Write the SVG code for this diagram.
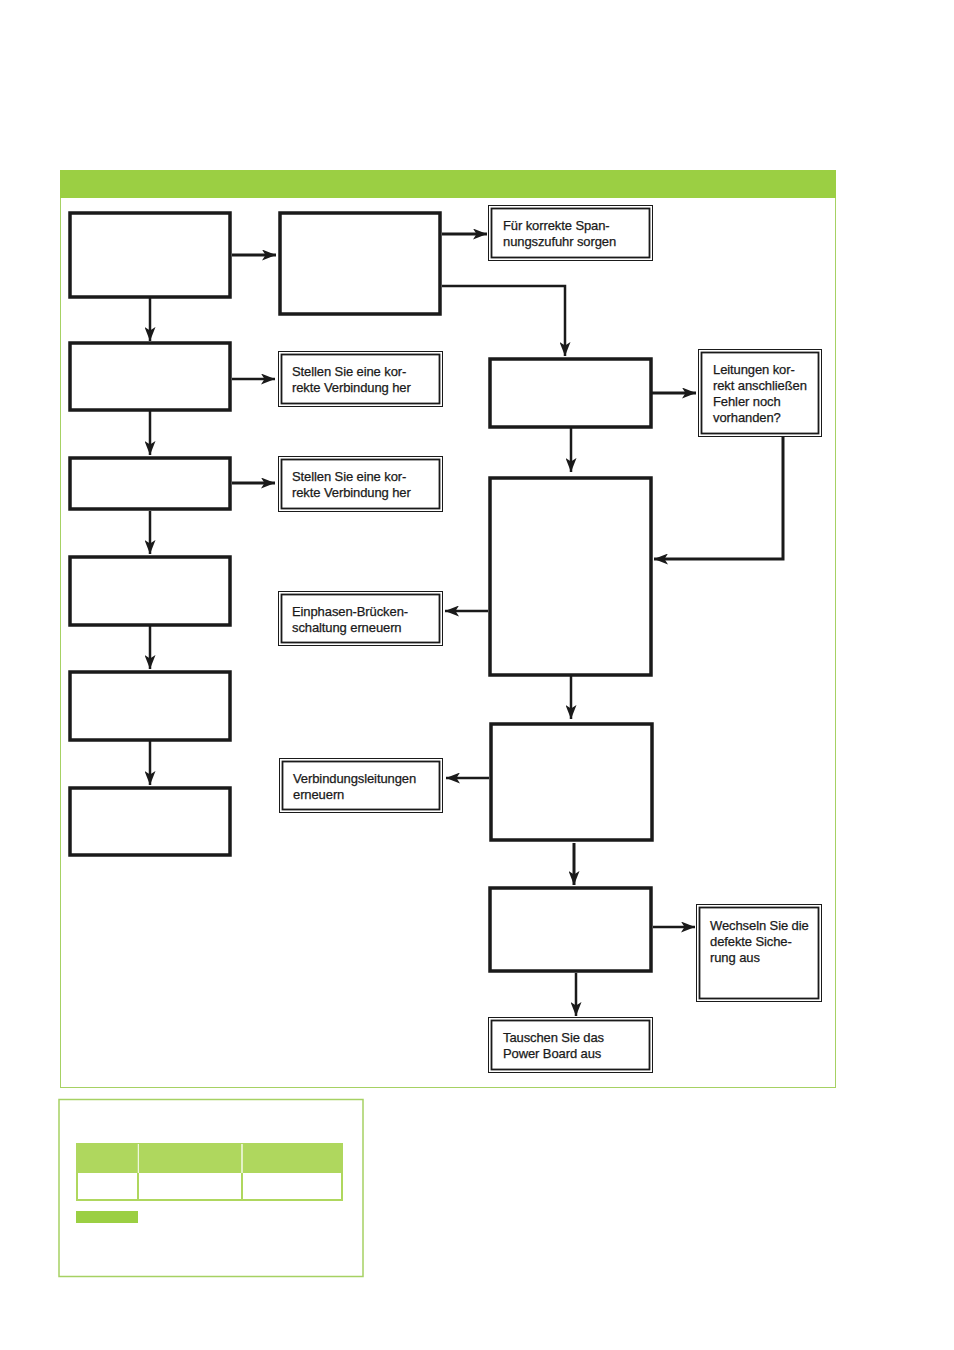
<svg xmlns="http://www.w3.org/2000/svg" width="954" height="1350" viewBox="0 0 954 1350">
<style>
.bx{fill:#fff;stroke:#1a1a1a;stroke-width:3.5}
.out{fill:#fff;stroke:#1a1a1a;stroke-width:1}
.in{fill:none;stroke:#1a1a1a;stroke-width:1.8}
.ln{fill:none;stroke:#1a1a1a;stroke-width:2.5}
.lt{fill:none;stroke:#1a1a1a;stroke-width:3}
.tx{font-family:"Liberation Sans",Arial,sans-serif;font-size:13px;fill:#1a1a1a;stroke:#1a1a1a;stroke-width:0.25;letter-spacing:-0.1px}
</style>
<defs>
<marker id="ah" viewBox="0 0 14 11" refX="14" refY="5.5" markerWidth="14" markerHeight="11" markerUnits="userSpaceOnUse" orient="auto">
<path d="M0,0 L14,5.5 L0,11 L3.5,5.5 Z" fill="#1a1a1a"/>
</marker>
</defs>
<rect x="0" y="0" width="954" height="1350" fill="#fff"/>
<g id="frame">
<rect x="60.5" y="170.5" width="775" height="917" fill="#fff" stroke="#a6d163" stroke-width="1"/>
<rect x="60" y="170" width="776" height="28" fill="#9bcf43"/>
</g>
<g id="connectors">
<line class="lt" x1="232" y1="255" x2="276" y2="255" marker-end="url(#ah)"/>
<line class="lt" x1="442" y1="234" x2="487" y2="234" marker-end="url(#ah)"/>
<polyline class="ln" points="442,286 565,286 565,356" marker-end="url(#ah)"/>
<line class="lt" x1="652" y1="393" x2="696" y2="393" marker-end="url(#ah)"/>
<polyline class="lt" points="783,436 783,559 654,559" marker-end="url(#ah)"/>
<line class="ln" x1="571" y1="428" x2="571" y2="472" marker-end="url(#ah)"/>
<line class="ln" x1="488" y1="611" x2="445" y2="611" marker-end="url(#ah)"/>
<line class="ln" x1="571" y1="676" x2="571" y2="719" marker-end="url(#ah)"/>
<line class="ln" x1="489" y1="778" x2="446" y2="778" marker-end="url(#ah)"/>
<line class="lt" x1="574" y1="843" x2="574" y2="885" marker-end="url(#ah)"/>
<line class="ln" x1="653" y1="927" x2="695" y2="927" marker-end="url(#ah)"/>
<line class="ln" x1="576" y1="973" x2="576" y2="1016" marker-end="url(#ah)"/>
<line class="ln" x1="150" y1="298" x2="150" y2="341" marker-end="url(#ah)"/>
<line class="ln" x1="232" y1="379" x2="275" y2="379" marker-end="url(#ah)"/>
<line class="ln" x1="150" y1="411" x2="150" y2="455" marker-end="url(#ah)"/>
<line class="lt" x1="232" y1="483" x2="275" y2="483" marker-end="url(#ah)"/>
<line class="ln" x1="150" y1="511" x2="150" y2="554" marker-end="url(#ah)"/>
<line class="ln" x1="150" y1="626" x2="150" y2="669" marker-end="url(#ah)"/>
<line class="ln" x1="150" y1="741" x2="150" y2="785" marker-end="url(#ah)"/>
</g>
<g id="nodeA"><rect class="bx" x="70" y="213" width="160" height="84"/></g>
<g id="nodeB"><rect class="bx" x="280" y="213" width="160" height="101"/></g>
<g id="nodeL2"><rect class="bx" x="70" y="343" width="160" height="67"/></g>
<g id="nodeL3"><rect class="bx" x="70" y="458" width="160" height="51"/></g>
<g id="nodeL4"><rect class="bx" x="70" y="557" width="160" height="68"/></g>
<g id="nodeL5"><rect class="bx" x="70" y="672" width="160" height="68"/></g>
<g id="nodeL6"><rect class="bx" x="70" y="788" width="160" height="67"/></g>
<g id="nodeC"><rect class="bx" x="490" y="359" width="161" height="68"/></g>
<g id="nodeD"><rect class="bx" x="490" y="478" width="161" height="197"/></g>
<g id="nodeE"><rect class="bx" x="491" y="724" width="161" height="116"/></g>
<g id="nodeF"><rect class="bx" x="490" y="888" width="161" height="83"/></g>
<g id="actSpannung">
<rect class="out" x="488.5" y="205.5" width="164" height="55"/>
<rect class="in" x="491.5" y="208.5" width="158" height="49"/>
<text class="tx" x="503" y="230">Für korrekte Span-</text>
<text class="tx" x="503" y="246">nungszufuhr sorgen</text>
</g>
<g id="actStellen1">
<rect class="out" x="278.5" y="351.5" width="164" height="55"/>
<rect class="in" x="281.5" y="354.5" width="158" height="49"/>
<text class="tx" x="292" y="376">Stellen Sie eine kor-</text>
<text class="tx" x="292" y="392">rekte Verbindung her</text>
</g>
<g id="actStellen2">
<rect class="out" x="278.5" y="456.5" width="164" height="55"/>
<rect class="in" x="281.5" y="459.5" width="158" height="49"/>
<text class="tx" x="292" y="481">Stellen Sie eine kor-</text>
<text class="tx" x="292" y="497">rekte Verbindung her</text>
</g>
<g id="actLeitungen">
<rect class="out" x="698.5" y="349.5" width="123" height="87"/>
<rect class="in" x="701.5" y="352.5" width="117" height="81"/>
<text class="tx" x="713" y="374">Leitungen kor-</text>
<text class="tx" x="713" y="390">rekt anschließen</text>
<text class="tx" x="713" y="406">Fehler noch</text>
<text class="tx" x="713" y="422">vorhanden?</text>
</g>
<g id="actEinphasen">
<rect class="out" x="278.5" y="591.5" width="164" height="54"/>
<rect class="in" x="281.5" y="594.5" width="158" height="48"/>
<text class="tx" x="292" y="616">Einphasen-Brücken-</text>
<text class="tx" x="292" y="632">schaltung erneuern</text>
</g>
<g id="actVerbindung">
<rect class="out" x="279.5" y="758.5" width="163" height="54"/>
<rect class="in" x="282.5" y="761.5" width="157" height="48"/>
<text class="tx" x="293" y="783">Verbindungsleitungen</text>
<text class="tx" x="293" y="799">erneuern</text>
</g>
<g id="actWechseln">
<rect class="out" x="696.5" y="904.5" width="125" height="97"/>
<rect class="in" x="699.5" y="907.5" width="119" height="91"/>
<text class="tx" x="710" y="930">Wechseln Sie die</text>
<text class="tx" x="710" y="946">defekte Siche-</text>
<text class="tx" x="710" y="962">rung aus</text>
</g>
<g id="actTauschen">
<rect class="out" x="488.5" y="1017.5" width="164" height="55"/>
<rect class="in" x="491.5" y="1020.5" width="158" height="49"/>
<text class="tx" x="503" y="1042">Tauschen Sie das</text>
<text class="tx" x="503" y="1058">Power Board aus</text>
</g>
<g id="legend">
<rect x="59" y="1099.5" width="304" height="177" fill="#fff" stroke="#a6d163" stroke-width="1.5"/>
<rect x="76" y="1143" width="267" height="58" fill="#afd75e"/>
<rect x="78" y="1173" width="59" height="26" fill="#fff"/>
<rect x="139" y="1173" width="102" height="26" fill="#fff"/>
<rect x="243" y="1173" width="98" height="26" fill="#fff"/>
<line x1="138.3" y1="1144" x2="138.3" y2="1173" stroke="#fff" stroke-width="1"/>
<line x1="242" y1="1144" x2="242" y2="1173" stroke="#fff" stroke-width="1.3"/>
<rect x="76" y="1211" width="62" height="12" fill="#9bcf43"/>
</g>
</svg>
